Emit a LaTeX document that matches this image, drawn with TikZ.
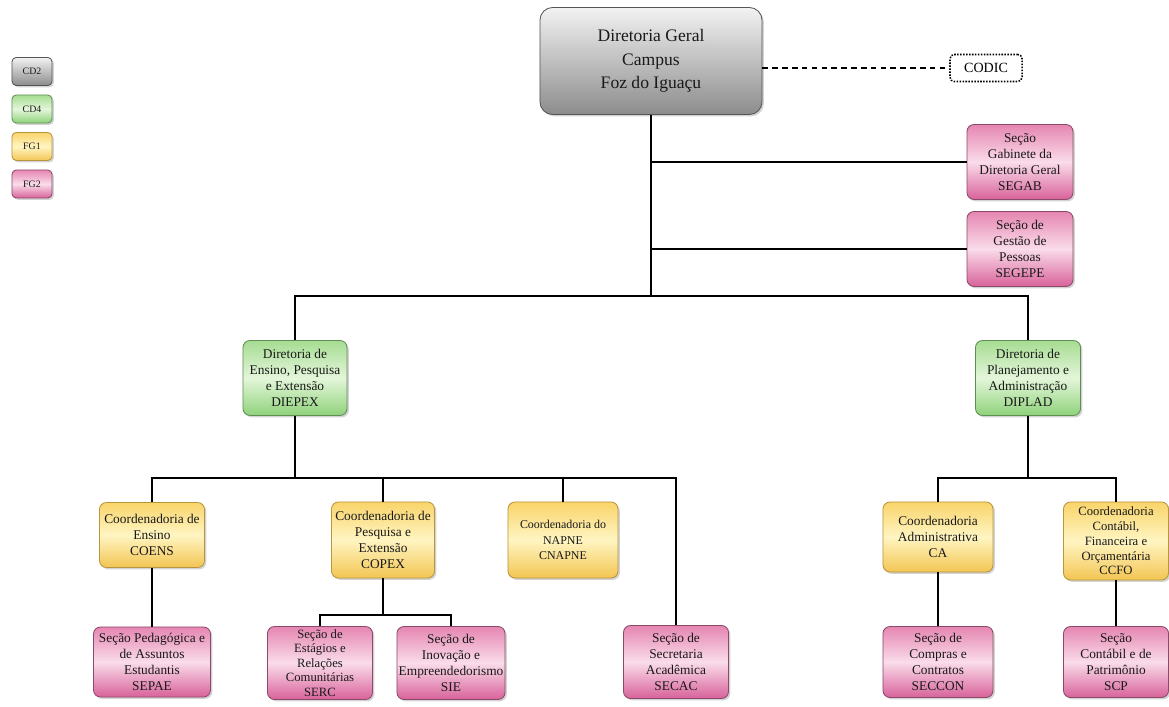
\documentclass[tikz,border=0pt]{standalone}
\usepackage{fontspec}
\setmainfont{Liberation Serif}
\usetikzlibrary{shadows}

\definecolor{graytop}{HTML}{F2F2F2}
\definecolor{graybot}{HTML}{8C8C8C}
\definecolor{graybd}{HTML}{555555}
\definecolor{greentop}{HTML}{A6DC92}
\definecolor{greenmid}{HTML}{E4F6DA}
\definecolor{greenbot}{HTML}{8FD27B}
\definecolor{greenbd}{HTML}{5E8F52}
\definecolor{yeltop}{HTML}{F9D46A}
\definecolor{yelmid}{HTML}{FFF5C2}
\definecolor{yelbot}{HTML}{F3C553}
\definecolor{yelbd}{HTML}{B8963E}
\definecolor{pinktop}{HTML}{E586B1}
\definecolor{pinkmid}{HTML}{FADCEA}
\definecolor{pinkbot}{HTML}{D8629A}
\definecolor{pinkbd}{HTML}{8A4B68}

\begin{document}
\begin{tikzpicture}[x=0.025cm,y=-0.025cm,
    box/.style={draw,rounded corners=5pt,align=center,inner sep=1pt,line width=0.6pt,
        font=\fontsize{9.5}{11.5}\selectfont,text=black!90,
        drop shadow={opacity=0.35,shadow xshift=1.3pt,shadow yshift=-1.3pt}},
    cdtwo/.style={box,draw=graybd,top color=graytop,bottom color=graybot},
    cdfour/.style={box,draw=greenbd,top color=greentop,bottom color=greenbot,middle color=greenmid},
    fgone/.style={box,draw=yelbd,top color=yeltop,bottom color=yelbot,middle color=yelmid},
    fgtwo/.style={box,draw=pinkbd,top color=pinktop,bottom color=pinkbot,middle color=pinkmid},
    legend/.style={minimum width=1cm,minimum height=0.7cm,rounded corners=3pt,font=\fontsize{7}{8}\selectfont},
    conn/.style={draw,line width=1.1pt},
    dashlink/.style={draw,line width=1pt,dash pattern=on 4pt off 3pt}]

    \useasboundingbox (0,0) rectangle (1169,707);

    % legend
    \foreach [count=\i] \lbl/\sty in {CD2/cdtwo,CD4/cdfour,FG1/fgone,FG2/fgtwo}{
        \node[\sty,legend] (leg\i) at (32,{34+37.5*\i}) {\lbl};
    }

    % direction
    \node[cdtwo,minimum width=5.55cm,minimum height=2.675cm,rounded corners=9pt,
        font=\fontsize{12.5}{16.5}\selectfont] (dg) at (651,61) {Diretoria Geral\\Campus\\Foz do Iguaçu};
    \node[draw,densely dotted,line width=1.1pt,rounded corners=3pt,fill=white,minimum width=1.8cm,
        minimum height=0.675cm,font=\fontsize{10}{12}\selectfont] (codic) at (986,68) {CODIC};
    \node[fgtwo,minimum width=2.65cm,minimum height=1.875cm] (segab) at (1020,162) {Seção\\Gabinete da\\Diretoria Geral\\SEGAB};
    \node[fgtwo,minimum width=2.65cm,minimum height=1.875cm] (segepe) at (1020,249) {Seção de\\Gestão de\\Pessoas\\SEGEPE};

    % directorates
    \node[cdfour,minimum width=2.6cm,minimum height=1.875cm] (diepex) at (295,378) {Diretoria de\\Ensino, Pesquisa\\e Extensão\\DIEPEX};
    \node[cdfour,minimum width=2.625cm,minimum height=1.875cm] (diplad) at (1028,378) {Diretoria de\\Planejamento e\\Administração\\DIPLAD};

    % coordinations
    \node[fgone,minimum width=2.625cm,minimum height=1.625cm] (coens) at (152,535) {Coordenadoria de\\Ensino\\COENS};
    \node[fgone,minimum width=2.575cm,minimum height=1.9cm] (copex) at (383,540) {Coordenadoria de\\Pesquisa e\\Extensão\\COPEX};
    \node[fgone,minimum width=2.75cm,minimum height=1.9cm,font=\fontsize{8.5}{11}\selectfont] (cnapne) at (563,540) {Coordenadoria do\\NAPNE\\CNAPNE};
    \node[fgone,minimum width=2.75cm,minimum height=1.75cm] (ca) at (938,537) {Coordenadoria\\Administrativa\\CA};
    \node[fgone,minimum width=2.625cm,minimum height=1.95cm,font=\fontsize{9}{10.5}\selectfont] (ccfo) at (1116,541) {Coordenadoria\\Contábil,\\Financeira e\\Orçamentária\\CCFO};

    % sections
    \node[fgtwo,minimum width=2.925cm,minimum height=1.75cm] (sepae) at (152,662) {Seção Pedagógica e\\de Assuntos\\Estudantis\\SEPAE};
    \node[fgtwo,minimum width=2.625cm,minimum height=1.825cm,font=\fontsize{9}{10.3}\selectfont] (serc) at (320,663) {Seção de\\Estágios e\\Relações\\Comunitárias\\SERC};
    \node[fgtwo,minimum width=2.7cm,minimum height=1.825cm] (sie) at (451,663) {Seção de\\Inovação e\\Empreendedorismo\\SIE};
    \node[fgtwo,minimum width=2.625cm,minimum height=1.825cm] (secac) at (676,662) {Seção de\\Secretaria\\Acadêmica\\SECAC};
    \node[fgtwo,minimum width=2.75cm,minimum height=1.775cm] (seccon) at (938,662) {Seção de\\Compras e\\Contratos\\SECCON};
    \node[fgtwo,minimum width=2.625cm,minimum height=1.775cm] (scp) at (1116,662) {Seção\\Contábil e de\\Patrimônio\\SCP};

    % junctions
    \coordinate (jdg) at (651,296);
    \coordinate (jdiepex) at (295,478);
    \coordinate (jdiplad) at (1028,478);
    \coordinate (jcopex) at (383,615);

    \draw[dashlink] (dg.east |- codic.west) -- (codic.west);
    \draw[conn] (dg.south) -- (jdg);
    \draw[conn] (segab.west) -- (segab.west -| dg.south);
    \draw[conn] (segepe.west) -- (segepe.west -| dg.south);
    \draw[conn] (diepex.north) |- (jdg) -| (diplad.north);

    \draw[conn] (diepex.south) -- (jdiepex);
    \draw[conn] (coens.north) |- (secac.north |- jdiepex) -- (secac.north);
    \draw[conn] (copex.north) -- (copex.north |- jdiepex);
    \draw[conn] (cnapne.north) -- (cnapne.north |- jdiepex);
    \draw[conn] (coens.south) -- (sepae.north);
    \draw[conn] (copex.south) -- (jcopex);
    \draw[conn] (serc.north) |- (jcopex) -| (sie.north);

    \draw[conn] (diplad.south) -- (jdiplad);
    \draw[conn] (ca.north) |- (jdiplad) -| (ccfo.north);
    \draw[conn] (ca.south) -- (seccon.north);
    \draw[conn] (ccfo.south) -- (scp.north);
\end{tikzpicture}
\end{document}
